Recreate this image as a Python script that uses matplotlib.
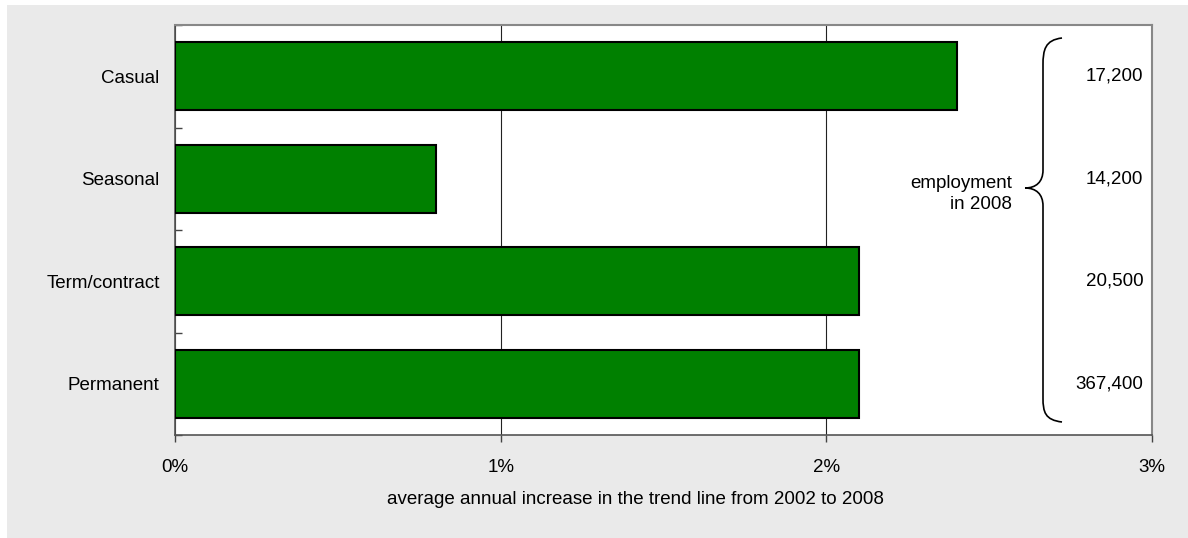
import matplotlib.pyplot as plt
from matplotlib.patches import Rectangle, PathPatch
from matplotlib.path import Path
from matplotlib.ticker import FuncFormatter, FixedLocator

plt.rcParams['font.family'] = ['Liberation Sans', 'DejaVu Sans']

# average annual increase in the trend line, 2002-2008 (%)
categories = ['Casual', 'Seasonal', 'Term/contract', 'Permanent']
increase = [2.4, 0.8, 2.1, 2.1]
employment_2008 = ['17,200', '14,200', '20,500', '367,400']
x_ticks = [0, 1, 2, 3]

W, H = 1188, 538
fig = plt.figure(figsize=(W / 100, H / 100), dpi=100, facecolor='white')


def px(x, y):
    # pixel position (top-left origin) -> figure fraction
    return x / W, 1 - y / H


# grey panel behind the chart
fig.patches.append(Rectangle(px(7, H), (W - 7) / W, (H - 5) / H,
                             transform=fig.transFigure, facecolor='#eaeaea',
                             edgecolor='none', zorder=-10))

left, top = px(175, 25)
right, bottom = px(1152, 435)
ax = fig.add_axes([left, bottom, right - left, top - bottom])
ax.set_facecolor('white')

pos = list(range(len(categories)))
ax.barh(pos, increase, height=0.66, color='#008000', edgecolor='black',
        linewidth=1.5, zorder=3)

ax.set_xlim(0, 3)
ax.set_ylim(len(categories) - 0.5, -0.5)
ax.set_xticks(x_ticks)
ax.xaxis.set_major_formatter(FuncFormatter(lambda v, _: f'{v:.0f}%'))
ax.grid(axis='x', color='#222222', linewidth=0.8, zorder=0)

ax.set_yticks(pos)
ax.set_yticklabels(categories)
ax.yaxis.set_minor_locator(FixedLocator([p - 0.5 for p in pos] + [pos[-1] + 0.5]))
ax.tick_params(axis='y', which='major', length=0, pad=11, labelsize=13.5)
ax.tick_params(axis='y', which='minor', direction='in', length=5,
               width=1, color='#444444')
ax.tick_params(axis='x', direction='out', length=5, width=1, color='#444444',
               pad=12, labelsize=13.5)

for side in ['top', 'right']:
    ax.spines[side].set_color('#888888')
    ax.spines[side].set_linewidth(1.5)
for side in ['left', 'bottom']:
    ax.spines[side].set_color('#555555')
    ax.spines[side].set_linewidth(1.2)

# employment counts on the right
for p, lab in zip(pos, employment_2008):
    ax.text(0.991, p, lab, transform=ax.get_yaxis_transform(),
            ha='right', va='center', fontsize=13.5)

# curly brace grouping the counts
verts = [(1062, 38), (1045, 40), (1043, 50), (1043, 65),
         (1043, 170),
         (1043, 182), (1036, 188), (1025, 188),
         (1036, 188), (1043, 194), (1043, 206),
         (1043, 398),
         (1043, 412), (1045, 420), (1062, 422)]
codes = [Path.MOVETO, Path.CURVE4, Path.CURVE4, Path.CURVE4,
         Path.LINETO,
         Path.CURVE4, Path.CURVE4, Path.CURVE4,
         Path.CURVE4, Path.CURVE4, Path.CURVE4,
         Path.LINETO,
         Path.CURVE4, Path.CURVE4, Path.CURVE4]
brace = Path([px(x, y) for x, y in verts], codes)
fig.patches.append(PathPatch(brace, transform=fig.transFigure, facecolor='none',
                             edgecolor='black', linewidth=1.2, zorder=5))

fig.text(*px(1012, 194), 'employment\nin 2008', ha='right', va='center',
         fontsize=13.5, linespacing=1.35)

fig.text(*px(635, 499), 'average annual increase in the trend line from 2002 to 2008',
         ha='center', va='center', fontsize=13.5)

fig.savefig('out.png', dpi=100, facecolor=fig.get_facecolor())
